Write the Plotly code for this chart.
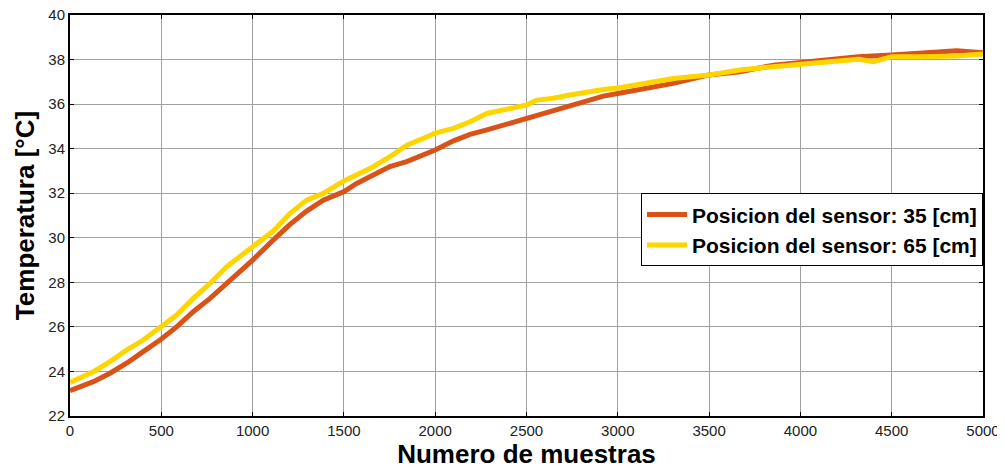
import plotly.graph_objects as go

# Sensor at 35 cm (orange)
x_35 = [0, 128, 219, 310, 401, 493, 584, 675, 767, 858, 949, 1000, 1120, 1205, 1296, 1387,
        1500, 1570, 1661, 1752, 1844, 1935, 2000, 2100, 2191, 2283, 2374, 2500, 2556, 2647,
        2738, 2830, 2921, 3000, 3104, 3195, 3303, 3500, 3669, 3852, 4000, 4134, 4317, 4500,
        4674, 4857, 5000]
t_35 = [23.14, 23.54, 23.92, 24.37, 24.89, 25.41, 26.0, 26.68, 27.28, 27.95, 28.6, 29.0, 29.95,
        30.6, 31.2, 31.69, 32.07, 32.44, 32.82, 33.2, 33.42, 33.71, 33.94, 34.35, 34.64, 34.84,
        35.06, 35.36, 35.51, 35.73, 35.91, 36.18, 36.36, 36.48, 36.62, 36.75, 36.93, 37.31,
        37.45, 37.75, 37.86, 38.01, 38.13, 38.2, 38.31, 38.4, 38.31]

# Sensor at 65 cm (yellow)
x_65 = [0, 128, 219, 310, 401, 493, 584, 675, 767, 858, 949, 1000, 1113, 1205, 1296, 1387,
        1500, 1570, 1661, 1752, 1844, 1935, 2000, 2100, 2191, 2283, 2374, 2500, 2556, 2647,
        2738, 2830, 2921, 3000, 3104, 3195, 3303, 3500, 3669, 3852, 4000, 4134, 4317, 4400,
        4500, 4674, 4857, 5000]
t_65 = [23.5, 23.99, 24.44, 24.96, 25.41, 25.94, 26.53, 27.28, 27.95, 28.7, 29.3, 29.6, 30.3,
        31.1, 31.69, 31.99, 32.55, 32.82, 33.19, 33.64, 34.16, 34.46, 34.7, 34.91, 35.21, 35.58,
        35.73, 35.96, 36.18, 36.26, 36.41, 36.56, 36.66, 36.72, 36.86, 37.0, 37.15, 37.31,
        37.53, 37.68, 37.8, 37.86, 38.01, 37.9, 38.13, 38.13, 38.16, 38.25]

names = ["Posicion del sensor: 35 [cm]", "Posicion del sensor: 65 [cm]"]
colors = ["#D95319", "#FFD500"]

x_ticks = [0, 500, 1000, 1500, 2000, 2500, 3000, 3500, 4000, 4500, 5000]
y_ticks = [22, 24, 26, 28, 30, 32, 34, 36, 38, 40]

FONT = "Arial, 'Liberation Sans', sans-serif"

fig = go.Figure()
fig.add_trace(go.Scatter(x=x_35, y=t_35, mode="lines", name="<b>" + names[0] + "</b>",
                         line=dict(color=colors[0], width=5)))
fig.add_trace(go.Scatter(x=x_65, y=t_65, mode="lines", name="<b>" + names[1] + "</b>",
                         line=dict(color=colors[1], width=5)))

axis_common = dict(
    showline=True, linecolor="black", linewidth=2, mirror="ticks",
    ticks="inside", ticklen=4, tickcolor="black", tickwidth=1,
    showgrid=True, gridcolor="#a0a0a0", gridwidth=1, zeroline=False,
    tickfont=dict(family=FONT, size=15, color="#222222"),
    automargin=False, ticklabeloverflow="allow",
)

# page body has an 8px margin: figure is 997x461 so it fills the 1005x469 window
fig.update_layout(
    width=997, height=461,
    margin=dict(l=62, r=22, t=7, b=53),
    paper_bgcolor="white", plot_bgcolor="white",
    font=dict(family=FONT, color="black"),
    xaxis=dict(range=[0, 5000], tickvals=x_ticks, ticktext=[str(v) for v in x_ticks],
               title=dict(text="<b>Numero de muestras</b>", font=dict(family=FONT, size=26),
                          standoff=4),
               **axis_common),
    yaxis=dict(range=[22, 40], tickvals=y_ticks, ticktext=[str(v) for v in y_ticks],
               title=dict(text="<b>Temperatura [°C]</b>", font=dict(family=FONT, size=26),
                          standoff=6),
               **axis_common),
    legend=dict(x=1, xanchor="right", y=0.555, yanchor="top",
                bgcolor="white", bordercolor="black", borderwidth=1,
                font=dict(family=FONT, size=21, color="black"),
                itemwidth=40),
    showlegend=True,
)

fig.write_html("out.html")
